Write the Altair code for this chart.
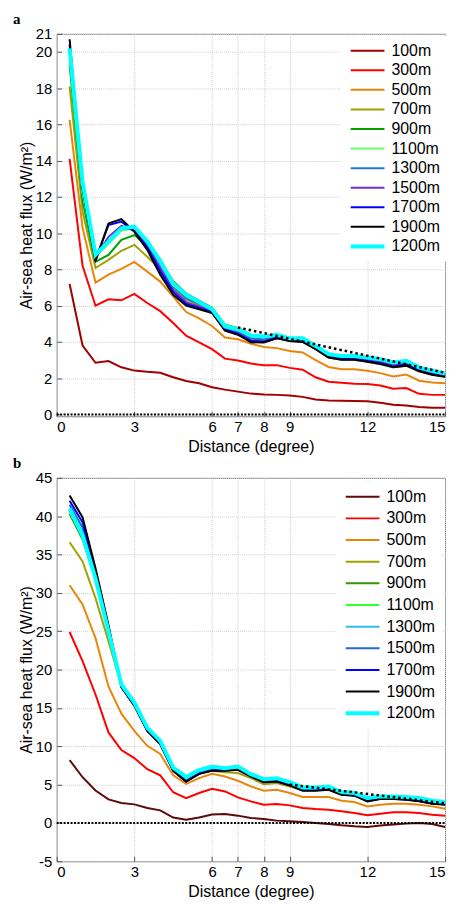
import altair as alt
import pandas as pd

# ---------------- data ----------------
x_deg = [0.5, 1.0, 1.5, 2.0, 2.5, 3.0, 3.5, 4.0, 4.5, 5.0, 5.5, 6.0, 6.5, 7.0, 7.5,
         8.0, 8.5, 9.0, 9.5, 10.0, 10.5, 11.0, 11.5, 12.0, 12.5, 13.0, 13.5, 14.0, 14.5, 15.0]

series = ["100m", "300m", "500m", "700m", "900m", "1100m", "1300m", "1500m", "1700m", "1900m", "1200m"]

# panel a
a_100 = [7.2, 3.8, 2.85, 2.95, 2.6, 2.42, 2.35, 2.3, 2.05, 1.85, 1.72, 1.5, 1.37, 1.26, 1.15, 1.1, 1.08, 1.05, 0.97, 0.83, 0.77, 0.76, 0.74, 0.73, 0.64, 0.53, 0.49, 0.41, 0.37, 0.37]
a_300 = [14.1, 8.2, 6.0, 6.35, 6.3, 6.65, 6.15, 5.7, 5.05, 4.35, 3.97, 3.6, 3.08, 2.98, 2.81, 2.72, 2.72, 2.57, 2.47, 2.05, 1.81, 1.75, 1.7, 1.68, 1.6, 1.42, 1.46, 1.14, 1.08, 1.08]
a_500 = [16.25, 10.3, 7.27, 7.71, 8.03, 8.42, 7.88, 7.33, 6.5, 5.65, 5.3, 4.88, 4.24, 4.15, 3.9, 3.72, 3.66, 3.5, 3.42, 3.0, 2.62, 2.5, 2.49, 2.41, 2.28, 2.1, 2.2, 1.86, 1.76, 1.72]
a_700 = [18.1, 11.2, 8.08, 8.53, 9.03, 9.36, 8.7, 8.0, 7.05, 6.35, 6.0, 5.7, 4.75, 4.6, 4.2, 4.1, 4.25, 4.05, 4.0, 3.6, 3.14, 3.02, 3.02, 2.91, 2.78, 2.6, 2.69, 2.38, 2.19, 2.08]
a_900 = [19.3, 11.8, 8.42, 8.8, 9.63, 9.9, 9.3, 8.5, 7.35, 6.68, 6.28, 5.88, 4.95, 4.78, 4.4, 4.3, 4.35, 4.15, 4.1, 3.7, 3.25, 3.15, 3.15, 3.03, 2.92, 2.75, 2.85, 2.5, 2.3, 2.18]
a_1100 = [19.8, 12.2, 8.7, 9.4, 10.15, 10.25, 9.5, 8.6, 7.3, 6.65, 6.25, 5.85, 4.92, 4.76, 4.38, 4.3, 4.38, 4.18, 4.15, 3.75, 3.28, 3.18, 3.18, 3.08, 2.98, 2.8, 2.9, 2.55, 2.35, 2.2]
a_1300 = [20.0, 12.4, 8.7, 9.6, 10.3, 10.2, 9.4, 8.3, 7.1, 6.4, 6.1, 5.75, 4.8, 4.6, 4.2, 4.15, 4.3, 4.1, 4.1, 3.7, 3.25, 3.15, 3.15, 3.05, 2.95, 2.78, 2.88, 2.52, 2.32, 2.18]
a_1500 = [20.2, 12.5, 8.65, 9.8, 10.4, 10.15, 9.3, 8.1, 6.9, 6.2, 5.95, 5.7, 4.72, 4.5, 4.1, 4.05, 4.25, 4.1, 4.05, 3.65, 3.2, 3.1, 3.1, 3.0, 2.9, 2.72, 2.82, 2.48, 2.28, 2.15]
a_1700 = [20.4, 12.5, 8.55, 10.45, 10.64, 10.1, 9.2, 7.9, 6.75, 6.1, 5.88, 5.65, 4.68, 4.45, 4.05, 4.0, 4.22, 4.08, 4.03, 3.63, 3.17, 3.06, 3.06, 2.95, 2.82, 2.65, 2.74, 2.42, 2.22, 2.1]
a_1900 = [20.7, 12.5, 8.45, 10.54, 10.78, 10.09, 9.08, 7.71, 6.6, 6.0, 5.8, 5.6, 4.62, 4.4, 3.98, 3.97, 4.2, 4.05, 4.0, 3.6, 3.14, 3.02, 3.02, 2.91, 2.78, 2.6, 2.69, 2.38, 2.19, 2.08]
a_1200 = [20.2, 12.8, 8.81, 9.54, 10.27, 10.36, 9.55, 8.45, 7.2, 6.6, 6.2, 5.8, 4.85, 4.7, 4.35, 4.3, 4.4, 4.2, 4.2, 3.78, 3.33, 3.23, 3.23, 3.14, 3.05, 2.87, 2.96, 2.6, 2.41, 2.26]
a_trend_x = [7.0, 15.0]
a_trend_y = [4.8, 2.3]

# panel b
b_100 = [8.2, 5.96, 4.23, 3.07, 2.6, 2.42, 1.94, 1.64, 0.7, 0.43, 0.7, 1.1, 1.17, 0.95, 0.65, 0.52, 0.3, 0.22, 0.13, 0.0, -0.13, -0.3, -0.43, -0.52, -0.35, -0.22, -0.09, 0.0, -0.13, -0.52]
b_300 = [24.9, 21.1, 16.75, 11.8, 9.5, 8.46, 7.0, 6.2, 4.0, 3.24, 3.9, 4.46, 4.11, 3.33, 2.81, 2.38, 2.47, 2.29, 1.95, 1.82, 1.73, 1.52, 1.3, 1.0, 1.21, 1.39, 1.39, 1.3, 1.08, 0.95]
b_500 = [31.0, 28.5, 24.1, 17.8, 14.25, 12.0, 10.06, 9.0, 6.2, 5.1, 5.85, 6.4, 6.06, 5.5, 4.76, 4.2, 4.33, 3.9, 3.38, 3.38, 3.38, 2.9, 2.73, 2.16, 2.38, 2.5, 2.5, 2.38, 2.16, 1.86]
b_700 = [36.6, 34.1, 29.3, 23.7, 17.9, 15.5, 12.2, 10.5, 7.0, 5.7, 6.5, 6.8, 6.6, 6.5, 5.84, 5.06, 5.2, 4.76, 4.3, 4.3, 4.4, 3.8, 3.65, 2.95, 3.2, 3.2, 3.15, 2.95, 2.65, 2.5]
b_900 = [40.3, 37.0, 31.9, 24.8, 17.9, 15.5, 12.2, 10.5, 7.0, 5.8, 6.8, 7.2, 7.0, 7.1, 6.2, 5.5, 5.6, 5.1, 4.45, 4.45, 4.55, 3.9, 3.75, 3.05, 3.3, 3.3, 3.25, 3.1, 2.75, 2.6]
b_1100 = [40.6, 37.3, 32.0, 25.0, 18.0, 15.6, 12.3, 10.6, 7.1, 5.9, 6.9, 7.4, 7.15, 7.3, 6.3, 5.65, 5.75, 5.25, 4.55, 4.55, 4.65, 3.95, 3.82, 3.15, 3.4, 3.4, 3.3, 3.18, 2.82, 2.65]
b_1300 = [41.0, 37.8, 32.3, 25.2, 17.9, 15.5, 12.2, 10.5, 7.0, 5.6, 6.6, 7.0, 6.95, 7.05, 6.15, 5.45, 5.55, 5.05, 4.35, 4.35, 4.45, 3.8, 3.65, 2.95, 3.22, 3.22, 3.15, 2.95, 2.62, 2.48]
b_1500 = [41.5, 38.5, 32.6, 25.4, 17.8, 15.4, 12.1, 10.4, 6.9, 5.5, 6.5, 6.9, 6.9, 7.0, 6.1, 5.4, 5.5, 5.0, 4.3, 4.3, 4.4, 3.75, 3.6, 2.9, 3.18, 3.18, 3.1, 2.9, 2.58, 2.45]
b_1700 = [42.0, 39.2, 32.9, 25.6, 17.7, 15.3, 12.0, 10.3, 6.8, 5.4, 6.4, 6.85, 6.85, 6.95, 6.06, 5.35, 5.45, 4.95, 4.25, 4.25, 4.38, 3.72, 3.58, 2.85, 3.15, 3.15, 3.06, 2.85, 2.54, 2.42]
b_1900 = [42.7, 39.85, 33.2, 25.8, 17.7, 15.3, 12.0, 10.3, 6.8, 5.4, 6.4, 6.8, 6.8, 6.93, 6.06, 5.32, 5.41, 4.89, 4.2, 4.2, 4.33, 3.68, 3.55, 2.81, 3.12, 3.12, 3.03, 2.81, 2.5, 2.38]
b_1200 = [41.0, 37.5, 31.9, 25.0, 18.05, 15.7, 12.4, 10.7, 7.2, 6.0, 6.9, 7.36, 7.14, 7.36, 6.36, 5.71, 5.84, 5.32, 4.63, 4.63, 4.76, 4.03, 3.9, 3.25, 3.46, 3.46, 3.38, 3.25, 2.9, 2.73]
b_trend_x = [9.0, 15.0]
b_trend_y = [5.0, 2.55]

zero_x = [0.0, 15.0]
zero_y = [0.0, 0.0]

x_ticks = [0, 3, 6, 7, 8, 9, 12, 15]
a_yticks = [0, 2, 4, 6, 8, 10, 12, 14, 16, 18, 20, 21]
b_yticks = [-5, 0, 5, 10, 15, 20, 25, 30, 35, 40, 45]

a_colors = ["#a00000", "#ff0000", "#e8860c", "#a0a000", "#00a000", "#66ff66",
            "#1e78d2", "#7030c8", "#0000ff", "#000000", "#00ffff"]
b_colors = ["#5c0a0a", "#ff0000", "#e8860c", "#a0a000", "#339900", "#33ff33",
            "#33bbee", "#1e6fd0", "#0000ff", "#000000", "#00ffff"]
widths = [2, 2, 2, 2, 2, 2, 2, 2, 2, 2, 4]

a_vals = [a_100, a_300, a_500, a_700, a_900, a_1100, a_1300, a_1500, a_1700, a_1900, a_1200]
b_vals = [b_100, b_300, b_500, b_700, b_900, b_1100, b_1300, b_1500, b_1700, b_1900, b_1200]

FONT = "Liberation Sans"
W = 391


def long_df(vals):
    rows = []
    for name, v in zip(series, vals):
        for xx, yy in zip(x_deg, v):
            rows.append({"x": xx, "y": yy, "s": name})
    return pd.DataFrame(rows)


def panel(vals, colors, tx, ty, letter, ydom, yticks, H, legx, legy, rowpad):
    xsc = alt.Scale(domain=[0, 15], nice=False, zero=False)
    ysc = alt.Scale(domain=ydom, nice=False, zero=False)
    xaxis = alt.Axis(values=x_ticks, title="Distance (degree)", grid=True, tickSize=0,
                     labelPadding=3, titlePadding=4, domain=False)
    yaxis = alt.Axis(values=yticks, title="Air-sea heat flux (W/m²)", grid=True, tickSize=0,
                     labelPadding=5, titlePadding=1, domain=False,
                     labelExpr="'' + datum.value")
    leg = alt.Legend(title=None, orient="none", legendX=legx, legendY=legy,
                     symbolType="M-1,0H5.8", symbolSize=100, labelOffset=28,
                     labelFont=FONT, labelFontSize=16, labelColor="black",
                     rowPadding=rowpad, fillColor="white", padding=7)
    lines = alt.Chart(long_df(vals)).mark_line(strokeCap="butt").encode(
        x=alt.X("x:Q", scale=xsc, axis=xaxis),
        y=alt.Y("y:Q", scale=ysc, axis=yaxis),
        color=alt.Color("s:N", scale=alt.Scale(domain=series, range=colors), legend=leg),
        strokeWidth=alt.StrokeWidth("s:N", scale=alt.Scale(type="ordinal", domain=series, range=widths), legend=leg),
    )
    zero = alt.Chart(pd.DataFrame({"x": zero_x, "y": zero_y})).mark_line(
        color="black", strokeWidth=2, strokeDash=[2, 1.5]).encode(
        x=alt.X("x:Q", scale=xsc, axis=alt.Axis(orient="top", offset=-H, labels=False, title=None,
                                                 grid=False, domain=False, tickSize=5, values=x_ticks,
                                                 tickColor="#555")),
        y=alt.Y("y:Q", scale=ysc, axis=alt.Axis(orient="right", offset=-W, labels=False, title=None,
                                                 grid=False, domain=False, tickSize=5, values=yticks,
                                                 tickColor="#555")),
    )
    trend = alt.Chart(pd.DataFrame({"x": tx, "y": ty})).mark_line(
        color="black", strokeWidth=2.5, strokeDash=[2.5, 3]).encode(
        x=alt.X("x:Q", scale=xsc, axis=None),
        y=alt.Y("y:Q", scale=ysc, axis=None),
    )
    return alt.layer(lines, zero, trend).resolve_axis(x="independent", y="independent").properties(
        width=W, height=H,
        title=alt.Title(letter, anchor="start", frame="group", dx=-44, font="Liberation Serif",
                        fontWeight="bold", fontSize=15, offset=0, color="black"),
    )


pa = panel(a_vals, a_colors, a_trend_x, a_trend_y, "a", [-0.1, 21], a_yticks, 385, 286, 2, 3.7)
pb = panel(b_vals, b_colors, b_trend_x, b_trend_y, "b", [-5, 45], b_yticks, 386, 281, 4, 5.8)

chart = alt.vconcat(pa, pb, spacing=0).resolve_scale(
    color="independent", strokeWidth="independent"
).resolve_legend(color="independent", strokeWidth="independent").configure(
    background="white", padding={"left": 4, "top": 0, "right": 0, "bottom": 0}
).configure_view(
    stroke="#808080", strokeWidth=1
).configure_axis(
    labelFont=FONT, labelFontSize=15, labelColor="black",
    titleFont=FONT, titleFontSize=16, titleFontWeight="normal", titleColor="black",
    gridColor="#d0d0d0", gridDash=[1, 1], gridWidth=1,
)

chart.save("out.html", embed_options={"renderer": "svg", "actions": False})
